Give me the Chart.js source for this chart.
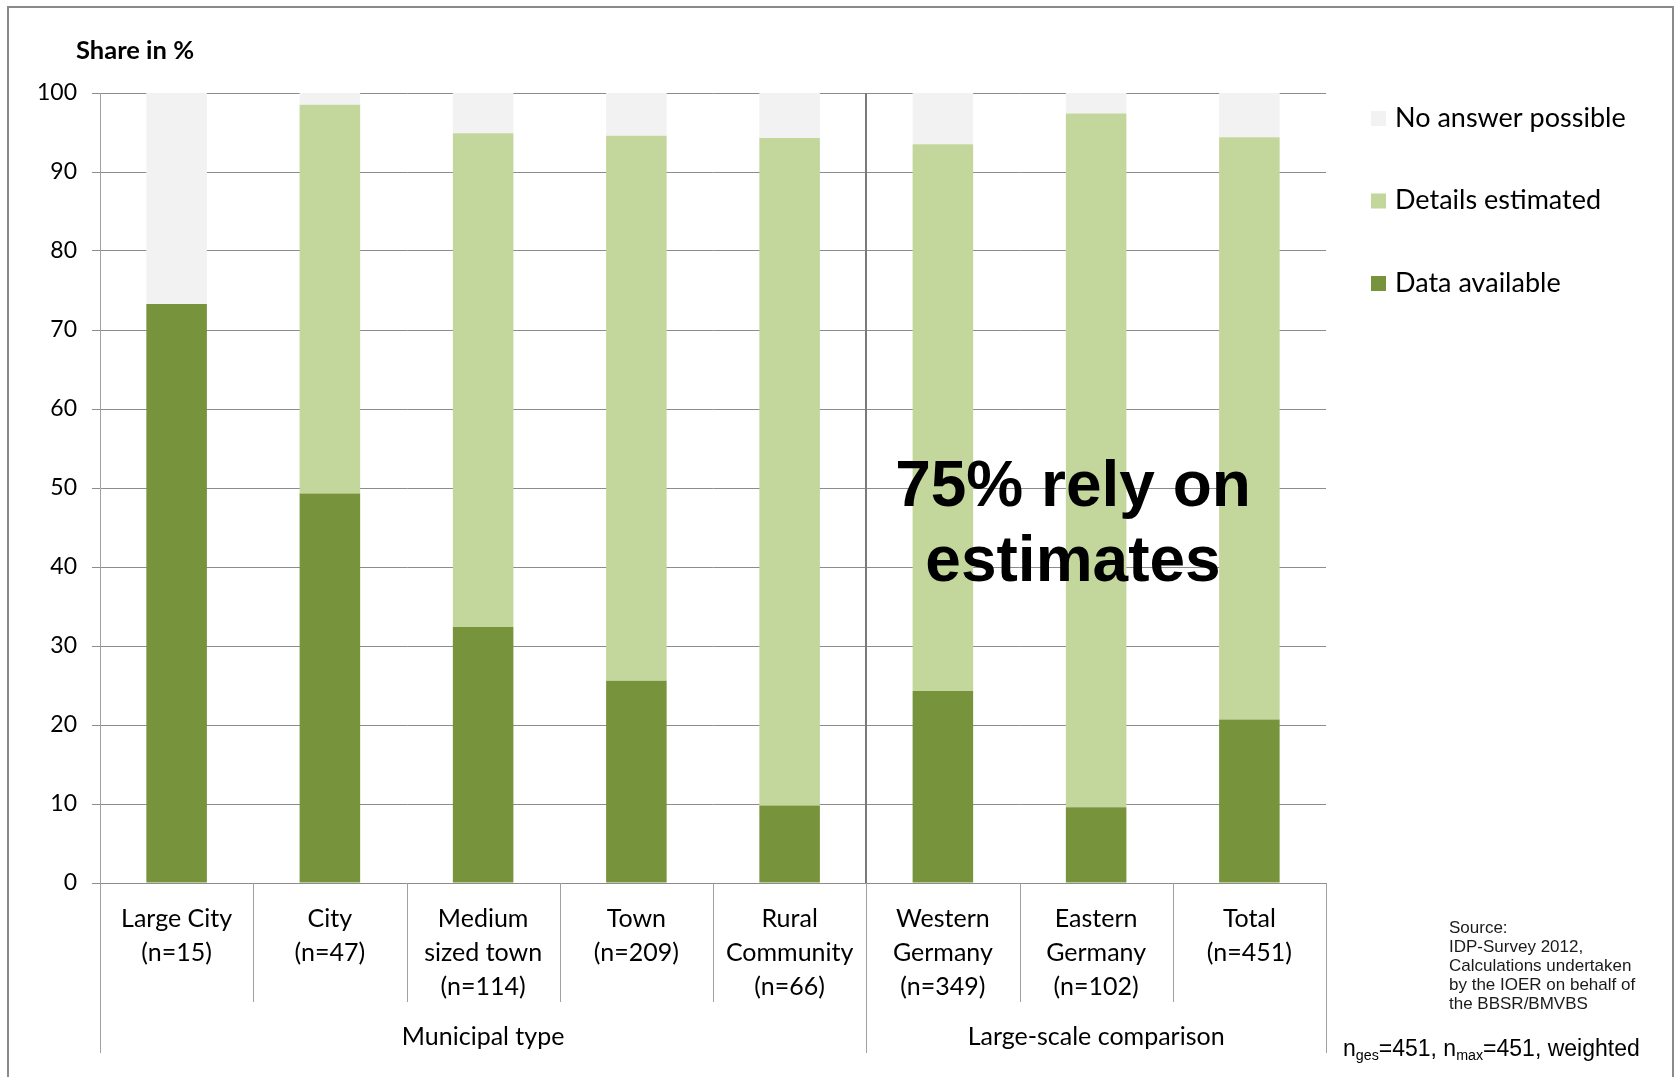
<!DOCTYPE html>
<html>
<head>
<meta charset="utf-8">
<script src="https://cdn.jsdelivr.net/npm/chart.js@4.4.1/dist/chart.umd.min.js"></script>
<style>
  body { margin: 0; background: #fff; }
  #wrap { position: relative; width: 1676px; height: 1077px; overflow: hidden; }
  #frame { position: absolute; left: 7px; top: 6px; width: 1663px; height: 1100px; border: 2px solid #8a8a8a; }
  canvas { position: absolute; left: 0; top: 0; }
  .t { position: absolute; white-space: nowrap; color: #000; }
  #ytitle { left: 76px; top: 34px; font: bold 25.5px Lato, sans-serif; line-height: 30px; }
  #note { left: 823px; top: 447px; width: 500px; text-align: center; font: bold 64px "Liberation Sans", Arial, sans-serif; line-height: 75px; }
  #source { left: 1449px; top: 918px; font: 17px "Liberation Sans", Arial, sans-serif; line-height: 19px; color: #1a1a1a; }
  #nline { left: 1343px; top: 1035px; font: 23px "Liberation Sans", Arial, sans-serif; line-height: 26px; }
  #nline sub { font-size: 0.62em; vertical-align: -0.3em; line-height: 0; }
</style>
</head>
<body>
<div id="wrap">
  <div id="frame"></div>
  <canvas id="chart" width="1676" height="1077"></canvas>
  <div class="t" id="ytitle">Share in %</div>
  <div class="t" id="note">75% rely on<br>estimates</div>
  <div class="t" id="source">Source:<br>IDP-Survey 2012,<br>Calculations undertaken<br>by the IOER on behalf of<br>the BBSR/BMVBS</div>
  <div class="t" id="nline">n<sub>ges</sub>=451, n<sub>max</sub>=451, weighted</div>
</div>
<script>
// categories (multi line labels) and the two groups under them
const categories = [
  ['Large City', '(n=15)'],
  ['City', '(n=47)'],
  ['Medium', 'sized town', '(n=114)'],
  ['Town', '(n=209)'],
  ['Rural', 'Community', '(n=66)'],
  ['Western', 'Germany', '(n=349)'],
  ['Eastern', 'Germany', '(n=102)'],
  ['Total', '(n=451)']
];
const groupLabels = ['Municipal type', 'Large-scale comparison'];
const groupSizes = [5, 3];

// shares in %
const dataAvailable   = [73.3, 49.3, 32.4, 25.6,  9.8, 24.3,  9.6, 20.7];
const detailsEstimated = [0.0, 49.2, 62.5, 69.0, 84.5, 69.2, 87.8, 73.7];
const noAnswer        = [26.7,  1.5,  5.1,  5.4,  5.7,  6.5,  2.6,  5.6];

const yTicks = [0, 10, 20, 30, 40, 50, 60, 70, 80, 90, 100];

const labelFont = { family: 'Lato, sans-serif', size: 25, lineHeight: 1.36 };

// extra category grid lines under the axis + group labels + legend
const excelBits = {
  id: 'excelBits',
  afterDraw(chart) {
    const ctx = chart.ctx;
    const area = chart.chartArea;
    const x = chart.scales.x;
    const n = categories.length;
    const bound = i => i === 0 ? area.left : i === n ? area.right
      : (x.getPixelForValue(i - 1) + x.getPixelForValue(i)) / 2;

    let groupEnds = [0];
    groupSizes.forEach(s => groupEnds.push(groupEnds[groupEnds.length - 1] + s));

    ctx.save();
    ctx.strokeStyle = '#a0a0a0';
    ctx.lineWidth = 1;
    for (let i = 0; i <= n; i++) {
      const bx = Math.round(bound(i)) + 0.5;
      const isGroup = groupEnds.includes(i);
      ctx.beginPath();
      ctx.moveTo(bx, area.bottom);
      ctx.lineTo(bx, isGroup ? 1053 : 1002);
      ctx.stroke();
    }
    // dark separator between the groups inside the plot
    ctx.strokeStyle = '#7a7a7a';
    ctx.lineWidth = 2;
    for (let g = 1; g < groupEnds.length - 1; g++) {
      const bx = Math.round(bound(groupEnds[g]));
      ctx.beginPath();
      ctx.moveTo(bx, area.top);
      ctx.lineTo(bx, area.bottom);
      ctx.stroke();
    }
    // group labels
    ctx.fillStyle = '#000';
    ctx.font = '25px Lato, sans-serif';
    ctx.textAlign = 'center';
    ctx.textBaseline = 'middle';
    groupLabels.forEach((lbl, g) => {
      const cx = (bound(groupEnds[g]) + bound(groupEnds[g + 1])) / 2;
      ctx.fillText(lbl, cx, 1037);
    });

    // legend, top item = last dataset
    ctx.font = '27px Lato, sans-serif';
    ctx.textAlign = 'left';
    const ds = chart.data.datasets.slice().reverse();
    ds.forEach((d, k) => {
      const cy = 118 + k * 82.5;
      ctx.fillStyle = d.backgroundColor;
      ctx.fillRect(1371, cy - 7, 15, 15);
      ctx.fillStyle = '#000';
      ctx.fillText(d.label, 1395, cy);
    });
    ctx.restore();
  }
};

new Chart(document.getElementById('chart'), {
  type: 'bar',
  data: {
    labels: categories,
    datasets: [
      { label: 'Data available', data: dataAvailable, backgroundColor: '#77933C' },
      { label: 'Details estimated', data: detailsEstimated, backgroundColor: '#C3D69B' },
      { label: 'No answer possible', data: noAnswer, backgroundColor: '#F2F2F2' }
    ]
  },
  options: {
    responsive: false,
    animation: false,
    layout: { padding: { left: 0, top: 93, right: 350, bottom: 0 } },
    datasets: { bar: { categoryPercentage: 1, barPercentage: 0.395, borderWidth: 0 } },
    plugins: { legend: { display: false }, tooltip: { enabled: false } },
    scales: {
      x: {
        stacked: true,
        grid: { display: false, drawTicks: false },
        border: { display: true, color: '#8c8c8c', width: 1 },
        ticks: { color: '#000', font: labelFont, padding: 19, maxRotation: 0, autoSkip: false },
        afterFit(scale) { scale.height = 194; }
      },
      y: {
        stacked: true,
        min: 0,
        max: 100,
        afterBuildTicks(scale) { scale.ticks = yTicks.map(v => ({ value: v })); },
        grid: { color: '#8c8c8c', lineWidth: 1, tickLength: 8 },
        border: { display: true, color: '#a0a0a0', width: 1 },
        ticks: { color: '#000', font: { family: 'Lato, sans-serif', size: 23 }, padding: 15 },
        afterFit(scale) { scale.width = 100; }
      }
    }
  },
  plugins: [excelBits]
});
</script>
</body>
</html>
